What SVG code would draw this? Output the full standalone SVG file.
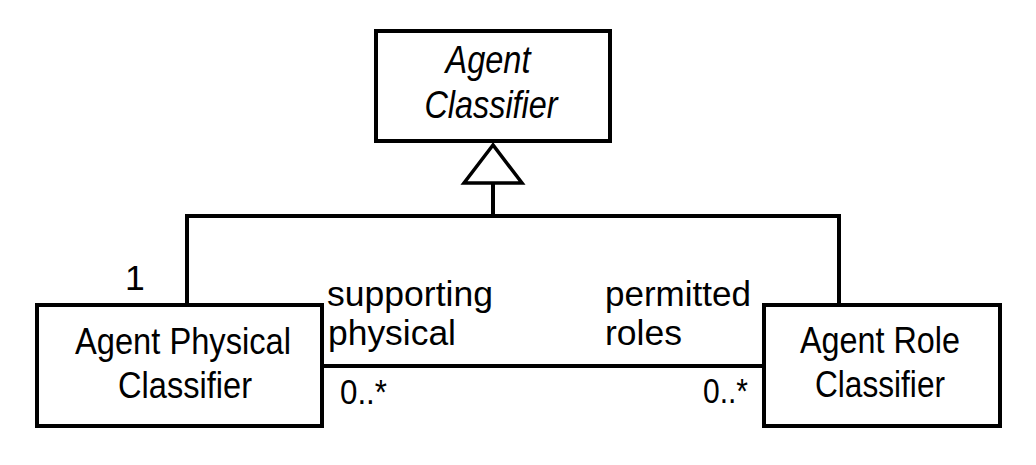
<svg xmlns="http://www.w3.org/2000/svg" width="1036" height="465" viewBox="0 0 1036 465">
<style>
.box{fill:#fff;stroke:#000;stroke-width:4}
.ln{fill:none;stroke:#000;stroke-width:4}
.t{font-family:"Liberation Sans",Arial,sans-serif;fill:#000}
.nt{font-size:36.5px;text-anchor:middle}
.it{font-style:italic;font-size:39.5px;text-anchor:middle}
.rl{font-size:35.5px}
</style>
<rect width="1036" height="465" fill="#fff"/>
<g id="connectors">
<path class="ln" d="M187,305 V216 H839 V305"/>
<path class="ln" d="M493,216 V183"/>
<polygon points="493,145 464,183 522,183" fill="#fff" stroke="#000" stroke-width="3.5" stroke-linejoin="miter"/>
<path class="ln" d="M324,366 H762"/>
<text class="t rl" x="125" y="290">1</text>
<text class="t rl" x="327" y="306" textLength="166" lengthAdjust="spacingAndGlyphs">supporting</text>
<text class="t rl" x="328" y="345" textLength="128" lengthAdjust="spacingAndGlyphs">physical</text>
<text class="t rl" x="340" y="404" textLength="47" lengthAdjust="spacingAndGlyphs">0..*</text>
<text class="t rl" x="605" y="306" textLength="146" lengthAdjust="spacingAndGlyphs">permitted</text>
<text class="t rl" x="605" y="345">roles</text>
<text class="t rl" x="703" y="403" textLength="45" lengthAdjust="spacingAndGlyphs">0..*</text>
</g>
<g id="agent-classifier">
<rect class="box" x="376" y="31" width="234" height="110"/>
<text class="t it" x="488" y="73" textLength="85" lengthAdjust="spacingAndGlyphs">Agent</text>
<text class="t it" x="491" y="118" textLength="133" lengthAdjust="spacingAndGlyphs">Classifier</text>
</g>
<g id="agent-physical-classifier">
<rect class="box" x="37" y="305" width="285" height="121"/>
<text class="t nt" x="183" y="354" textLength="216" lengthAdjust="spacingAndGlyphs">Agent Physical</text>
<text class="t nt" x="185" y="398" textLength="134" lengthAdjust="spacingAndGlyphs">Classifier</text>
</g>
<g id="agent-role-classifier">
<rect class="box" x="764" y="305" width="236" height="121"/>
<text class="t nt" x="880" y="353" textLength="160" lengthAdjust="spacingAndGlyphs">Agent Role</text>
<text class="t nt" x="880" y="397" textLength="130" lengthAdjust="spacingAndGlyphs">Classifier</text>
</g>
</svg>
